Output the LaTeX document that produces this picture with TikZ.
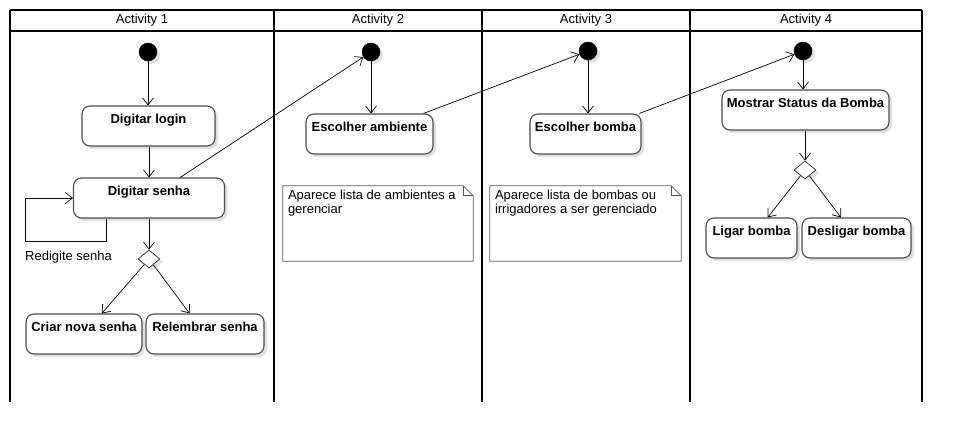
\documentclass[tikz,border=0pt]{standalone}
\usepackage{fontspec}
\setmainfont{Liberation Sans}
\usetikzlibrary{arrows.meta,shapes.geometric,shadows}
\begin{document}
\begin{tikzpicture}[x=1pt,y=-1pt,
  lane/.style={line width=1.8pt, black},
  shad/.style={drop shadow={shadow xshift=3pt,shadow yshift=-3pt,fill=black!12,opacity=1}},
  act/.style={draw=black!70, line width=1.1pt, rounded corners=8pt, fill=white, shad,
    inner xsep=0pt, inner ysep=0pt, font=\fontsize{13}{15}\selectfont\bfseries,
    text height=17pt, text depth=23pt, align=center},
  start/.style={circle, fill=black, draw=black, minimum size=18pt, inner sep=0pt, shad},
  decis/.style={diamond, draw=black!85, line width=0.7pt, fill=white, minimum width=22pt, minimum height=18pt, inner sep=0pt, shad},
  arr/.style={-{Straight Barb[length=7pt,width=11pt]}, line width=0.7pt, black},
  hdr/.style={font=\fontsize{13}{15}\selectfont},
  notebox/.style={minimum width=190pt, minimum height=75pt, inner sep=0pt},
  notetxt/.style={font=\fontsize{13}{14}\selectfont, align=left, inner sep=0pt, anchor=north west},
  notedraw/.style={draw=black!65, line width=0.8pt, fill=white}
]
\useasboundingbox (0,0) rectangle (962,442);
% swimlanes
\draw[lane] (10,10) -- (922,10);
\draw[lane] (10,31) -- (922,31);
\foreach \x in {10,274,482,690,922} \draw[lane] (\x,10) -- (\x,402);
\node[hdr] (h1) at (142,20.5) {Activity 1};
\node[hdr] (h2) at (378,20.5) {Activity 2};
\node[hdr] (h3) at (586,20.5) {Activity 3};
\node[hdr] (h4) at (806,20.5) {Activity 4};

% lane 1
\node[start] (s1) at (148,52) {};
\node[act, minimum width=133pt] (login) at (148.5,126) {Digitar login};
\node[act, minimum width=151pt] (senha) at (149,198) {Digitar senha};
\node[decis] (d1) at (149,259) {};
\node[act, minimum width=116pt] (criar) at (84,334) {Criar nova senha};
\node[act, minimum width=118pt] (relem) at (205,334) {Relembrar senha};
\node[font=\fontsize{13}{15}\selectfont, anchor=west, inner sep=0pt] (redig) at (25,257) {Redigite senha};

\draw[arr] (s1) -- (s1 |- login.north);
\draw[arr] (login.south -| senha.north) -- (senha.north);
\draw[arr] ([xshift=33pt]senha.south west) -- ++(0,23) -| ([xshift=-48pt]senha.west) -- (senha.west);
\draw[arr] (senha.south -| d1) -- (d1.north);
\draw[arr] (d1) -- (criar);
\draw[arr] (d1) -- (relem);

% lane 2
\node[start] (s2) at (371,52) {};
\node[act, minimum width=127pt] (amb) at (369.5,134) {Escolher ambiente};
\draw[arr] (s2) -- (s2 |- amb.north);
\draw[arr] (senha) -- (s2);
\node[notebox] (n1) at (378,223.5) {};
\draw[notedraw] (n1.north west) -- ([xshift=-10pt]n1.north east) -- ([yshift=-10pt]n1.north east) -- (n1.south east) -- (n1.south west) -- cycle;
\draw[black!65, line width=0.8pt] ([xshift=-10pt]n1.north east) -- ([xshift=-10pt,yshift=-10pt]n1.north east) -- ([yshift=-10pt]n1.north east);
\node[notetxt] (t1) at ([xshift=5pt,yshift=-4pt]n1.north west) {Aparece lista de ambientes a\\gerenciar};

% lane 3
\node[start] (s3) at (588,51) {};
\node[act, minimum width=111pt] (bomba) at (585.5,134) {Escolher bomba};
\draw[arr] (s3) -- (s3 |- bomba.north);
\draw[arr] (amb) -- (s3);
\node[notebox, minimum width=191pt] (n2) at (585.5,223.5) {};
\draw[notedraw] (n2.north west) -- ([xshift=-10pt]n2.north east) -- ([yshift=-10pt]n2.north east) -- (n2.south east) -- (n2.south west) -- cycle;
\draw[black!65, line width=0.8pt] ([xshift=-10pt]n2.north east) -- ([xshift=-10pt,yshift=-10pt]n2.north east) -- ([yshift=-10pt]n2.north east);
\node[notetxt] (t2) at ([xshift=5pt,yshift=-4pt]n2.north west) {Aparece lista de bombas ou\\irrigadores a ser gerenciado};

% lane 4
\node[start] (s4) at (803,51) {};
\node[act, minimum width=167pt] (status) at (805.5,110) {Mostrar Status da Bomba};
\node[decis] (d2) at (805,170) {};
\node[act, minimum width=91pt] (ligar) at (751.5,238) {Ligar bomba};
\node[act, minimum width=109pt] (desl) at (856.5,238) {Desligar bomba};
\draw[arr] (s4) -- (s4 |- status.north);
\draw[arr] (bomba) -- (s4);
\draw[arr] (status.south -| d2) -- (d2.north);
\draw[arr] (d2) -- (ligar);
\draw[arr] (d2) -- (desl);
\end{tikzpicture}
\end{document}
